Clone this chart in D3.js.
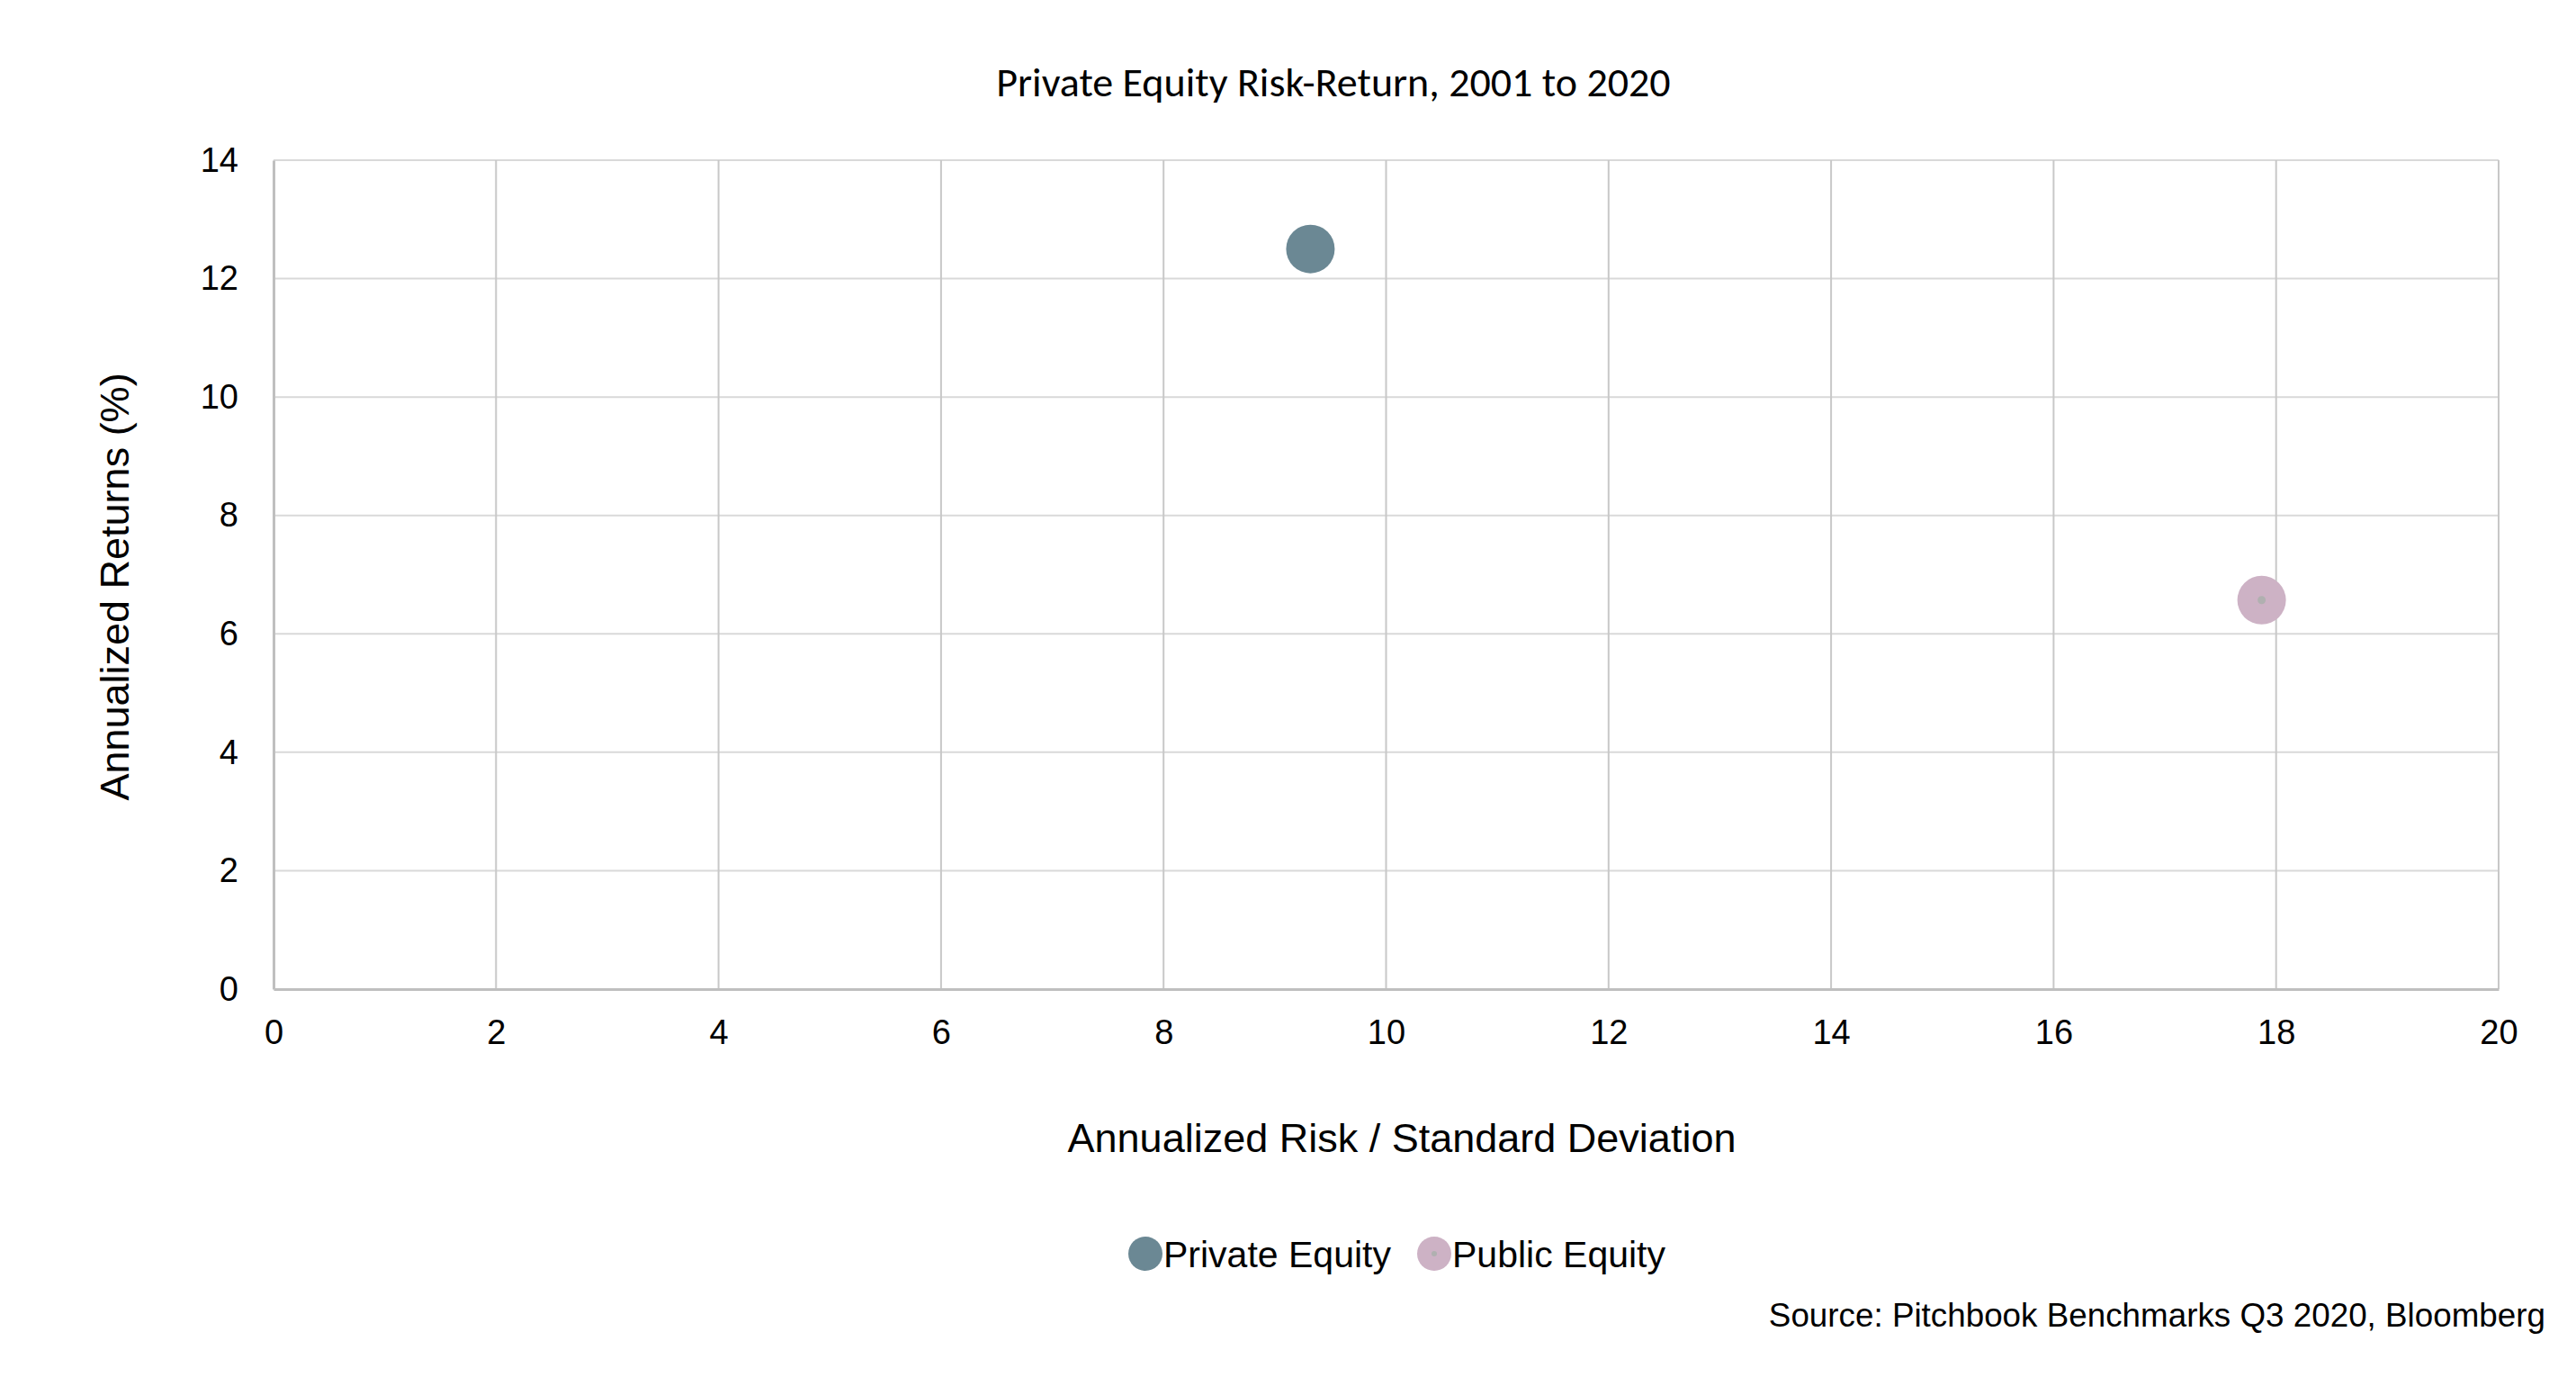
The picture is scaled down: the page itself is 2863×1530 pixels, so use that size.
<!DOCTYPE html>
<html>
<head>
<meta charset="utf-8">
<script src="https://cdn.jsdelivr.net/npm/d3@7"></script>
<style>
  html, body { margin: 0; padding: 0; background: #ffffff; }
  svg { display: block; }
</style>
</head>
<body>
<svg id="chart" width="2863" height="1530"></svg>
<script>
// ---- Data ----
const seriesNames = ["Private Equity", "Public Equity"];
const riskValues = [9.32, 17.87];     // Annualized Risk / Standard Deviation
const returnValues = [12.5, 6.57];    // Annualized Returns (%)
const seriesColors = ["#6b8894", "#cdb2c5"];
const xTicks = [0, 2, 4, 6, 8, 10, 12, 14, 16, 18, 20];
const yTicks = [0, 2, 4, 6, 8, 10, 12, 14];
const titleText = "Private Equity Risk-Return, 2001 to 2020";
const xTitle = "Annualized Risk / Standard Deviation";
const yTitle = "Annualized Returns (%)";
const sourceText = "Source: Pitchbook Benchmarks Q3 2020, Bloomberg";

// ---- Layout ----
const W = 2863, H = 1530;
const plot = { left: 304, right: 2777, top: 178, bottom: 1099 };
const svg = d3.select("#chart");
const tickFont = "'Liberation Sans', Arial, sans-serif";

const x = d3.scaleLinear().domain([0, 20]).range([plot.left, plot.right]);
const y = d3.scaleLinear().domain([0, 14]).range([plot.bottom, plot.top]);

// Title
svg.append("text")
  .attr("x", 1482).attr("y", 107)
  .attr("text-anchor", "middle")
  .attr("font-family", "Carlito, Lato, 'Open Sans', sans-serif")
  .attr("font-size", 46)
  .attr("fill", "#000")
  .text(titleText);

// Horizontal gridlines
svg.append("g").selectAll("line").data(yTicks.filter(d => d !== 0)).join("line")
  .attr("x1", plot.left).attr("x2", plot.right)
  .attr("y1", d => y(d)).attr("y2", d => y(d))
  .attr("stroke", "#d9d9d9").attr("stroke-width", 2);

// Vertical gridlines
svg.append("g").selectAll("line").data(xTicks.filter(d => d !== 0)).join("line")
  .attr("x1", d => x(d)).attr("x2", d => x(d))
  .attr("y1", plot.top).attr("y2", plot.bottom)
  .attr("stroke", "#c8c8c8").attr("stroke-width", 2);

// Axes (using d3 axes, no tick marks, custom styled)
const xAxis = svg.append("g")
  .attr("transform", `translate(0,${plot.bottom})`)
  .call(d3.axisBottom(x).tickValues(xTicks).tickSize(0).tickPadding(34).tickFormat(d3.format("d")));
xAxis.select(".domain").attr("stroke", "#bfbfbf").attr("stroke-width", 3);
xAxis.selectAll("text").attr("font-family", tickFont).attr("font-size", 38).attr("fill", "#000");

const yAxis = svg.append("g")
  .attr("transform", `translate(${plot.left},0)`)
  .call(d3.axisLeft(y).tickValues(yTicks).tickSize(0).tickPadding(39).tickFormat(d3.format("d")));
yAxis.select(".domain").attr("stroke", "#bfbfbf").attr("stroke-width", 3);
yAxis.selectAll("text").attr("font-family", tickFont).attr("font-size", 38).attr("fill", "#000");

// Axis titles
svg.append("text")
  .attr("x", 1558).attr("y", 1280)
  .attr("text-anchor", "middle")
  .attr("font-family", tickFont).attr("font-size", 45).attr("fill", "#000")
  .text(xTitle);

svg.append("text")
  .attr("transform", "translate(143,652) rotate(-90)")
  .attr("text-anchor", "middle")
  .attr("font-family", tickFont).attr("font-size", 45).attr("fill", "#000")
  .text(yTitle);

// Points
const pts = seriesNames.map((n, i) => ({ name: n, x: riskValues[i], y: returnValues[i], color: seriesColors[i] }));
svg.append("g").selectAll("circle").data(pts).join("circle")
  .attr("cx", d => x(d.x)).attr("cy", d => y(d.y)).attr("r", 27)
  .attr("fill", d => d.color);
// small grey center marker on Public Equity
svg.append("g").selectAll("circle").data(pts.filter(d => d.name === "Public Equity")).join("circle")
  .attr("cx", d => x(d.x)).attr("cy", d => y(d.y)).attr("r", 4.5)
  .attr("fill", "#b0b0b0");

// Legend
const legendX = [1273, 1594];
const legend = svg.append("g");
pts.forEach((d, i) => {
  legend.append("circle").attr("cx", legendX[i]).attr("cy", 1393).attr("r", 19).attr("fill", d.color);
  if (d.name === "Public Equity") {
    legend.append("circle").attr("cx", legendX[i]).attr("cy", 1393).attr("r", 3).attr("fill", "#b0b0b0");
  }
  legend.append("text")
    .attr("x", legendX[i] + 20).attr("y", 1408)
    .attr("font-family", tickFont).attr("font-size", 41).attr("fill", "#000")
    .text(d.name);
});

// Source
svg.append("text")
  .attr("x", 2829).attr("y", 1474)
  .attr("text-anchor", "end")
  .attr("font-family", tickFont).attr("font-size", 36.8).attr("fill", "#000")
  .text(sourceText);
</script>
</body>
</html>
